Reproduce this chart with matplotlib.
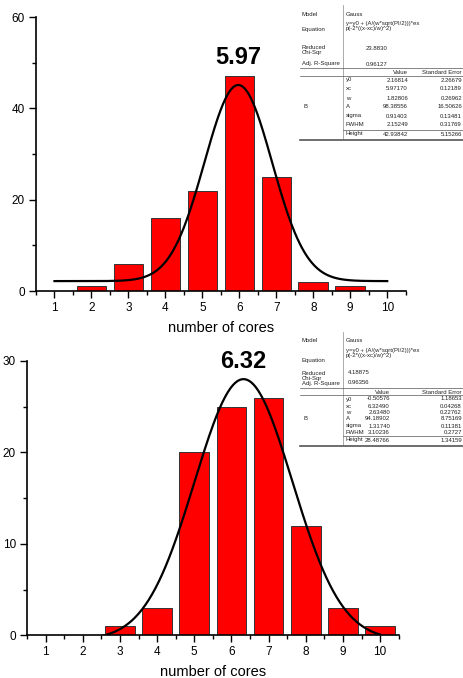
import numpy as np
import matplotlib
matplotlib.use('Agg')
import matplotlib.pyplot as plt
from matplotlib.lines import Line2D
from matplotlib.ticker import MultipleLocator

plt.rcParams['font.family'] = ['Liberation Sans', 'DejaVu Sans']

cores = [1, 2, 3, 4, 5, 6, 7, 8, 9, 10]
counts_top = [0, 1, 6, 16, 22, 47, 25, 2, 1, 0]
counts_bot = [0, 0, 1, 3, 20, 25, 26, 12, 3, 1]

# gauss fit parameters (y0, xc, w, A) as printed in the fit tables
fit_top = [2.16814, 5.97170, 1.82806, 98.38556]
fit_bot = [-0.50576, 6.32490, 2.63480, 94.18902]

params = ['y0', 'xc', 'w', 'A', 'sigma', 'FWHM', 'Height']
val_top = ['2.16814', '5.97170', '1.82806', '98.38556', '0.91403', '2.15249', '42.93842']
err_top = ['2.26679', '0.12189', '0.26962', '16.50626', '0.13481', '0.31769', '5.15266']
val_bot = ['-0.50576', '6.32490', '2.63480', '94.18902', '1.31740', '3.10236', '28.48766']
err_bot = ['1.18653', '0.04268', '0.22762', '8.75169', '0.11381', '0.2727', '1.34159']
chi_top, r2_top = '23.8830', '0.96127'
chi_bot, r2_bot = '4.18875', '0.96356'
equation = 'y=y0 + (A/(w*sqrt(PI/2)))*ex\np(-2*((x-xc)/w)^2)'


def gauss(x, y0, xc, w, A):
    return y0 + A / (w * np.sqrt(np.pi / 2)) * np.exp(-2 * ((x - xc) / w) ** 2)


W, H = 464, 678
fig = plt.figure(figsize=(W / 100, H / 100), dpi=100)


def fx(x):
    return x / W


def fy(y):
    return 1 - y / H


def draw_panel(rect, counts, fit, ymax, ymajor, label):
    ax = fig.add_axes(rect)
    ax.bar(cores, counts, width=0.8, color='#ff0000', edgecolor='#333333', linewidth=0.7, zorder=2)
    xs = np.linspace(1, 10, 400)
    ax.plot(xs, gauss(xs, *fit), color='black', linewidth=1.6, zorder=3)
    ax.set_xlim(0.5, 10.5)
    ax.set_ylim(0, ymax)
    ax.xaxis.set_major_locator(MultipleLocator(1))
    ax.xaxis.set_minor_locator(MultipleLocator(0.5))
    ax.yaxis.set_major_locator(MultipleLocator(ymajor))
    ax.yaxis.set_minor_locator(MultipleLocator(ymajor / 2))
    for s in ['top', 'right']:
        ax.spines[s].set_visible(False)
    for s in ['left', 'bottom']:
        ax.spines[s].set_linewidth(1.2)
    ax.tick_params(which='major', direction='out', length=5, width=1, labelsize=8.5, pad=3)
    ax.tick_params(which='minor', direction='out', length=3, width=1)
    ax.set_xlabel('number of cores', fontsize=10.5, labelpad=5)
    ax.text(fit[1], label[1], label[0], fontsize=17, fontweight='bold', ha='center', va='center')
    ax.patch.set_alpha(0)
    return ax


draw_panel([fx(36), fy(291), 369.7 / W, 274 / H], counts_top, fit_top, 60, 20, ('5.97', 51.1))
draw_panel([fx(27), fy(635.3), 371.7 / W, 274.3 / H], counts_bot, fit_bot, 30, 10, ('6.32', 29.9))


def hline(x0, x1, y, lw=0.5):
    fig.add_artist(Line2D([fx(x0), fx(x1)], [fy(y), fy(y)], color='#555555', linewidth=lw))


def vline(x, y0, y1, lw=0.5):
    fig.add_artist(Line2D([fx(x), fx(x)], [fy(y0), fy(y1)], color='#888888', linewidth=lw))


def fit_table(head_y, rows_y, val, err, chi, r2, vx, ex):
    # head_y: model, equation text, equation label, chi label, chi value, adj r2, column header
    fs = 4.3
    kw = dict(fontsize=fs, color='#222222', va='center')
    fig.text(fx(302), fy(head_y[0]), 'Model', **kw)
    fig.text(fx(346), fy(head_y[0]), 'Gauss', **kw)
    fig.text(fx(346), fy(head_y[1]), equation, linespacing=1.0, **kw)
    fig.text(fx(302), fy(head_y[2]), 'Equation', **kw)
    fig.text(fx(302), fy(head_y[3]), 'Reduced\nChi-Sqr', linespacing=1.0, **kw)
    fig.text(fx(vx - 42), fy(head_y[4]), chi, **kw)
    fig.text(fx(302), fy(head_y[5]), 'Adj. R-Square', **kw)
    fig.text(fx(vx - 42), fy(head_y[5]), r2, **kw)
    fig.text(fx(vx - 8), fy(head_y[6]), 'Value', ha='center', **kw)
    fig.text(fx(ex), fy(head_y[6]), 'Standard Error', ha='right', **kw)
    fig.text(fx(303), fy(rows_y[3]), 'B', **kw)
    for p, v, e, y in zip(params, val, err, rows_y):
        fig.text(fx(346), fy(y), p, **kw)
        fig.text(fx(vx), fy(y), v, ha='right', **kw)
        fig.text(fx(ex), fy(y), e, ha='right', **kw)
    vline(343, head_y[0] - 9, rows_y[-1] + 5)
    hline(300, 464, head_y[6] - 4)
    hline(300, 464, rows_y[0] - 4)
    hline(343, 464, rows_y[-1] - 4)
    hline(300, 464, rows_y[-1] + 6, lw=1.2)


fit_table([14, 26, 30, 50, 48, 64, 72], [80, 89, 98, 107, 116, 125, 134],
          val_top, err_top, chi_top, r2_top, 408, 462)
fit_table([341, 353, 360, 376, 373, 383, 392], [399, 406, 412, 419, 426, 433, 440],
          val_bot, err_bot, chi_bot, r2_bot, 390, 462)

fig.savefig('out.png', dpi=100, facecolor='white')
